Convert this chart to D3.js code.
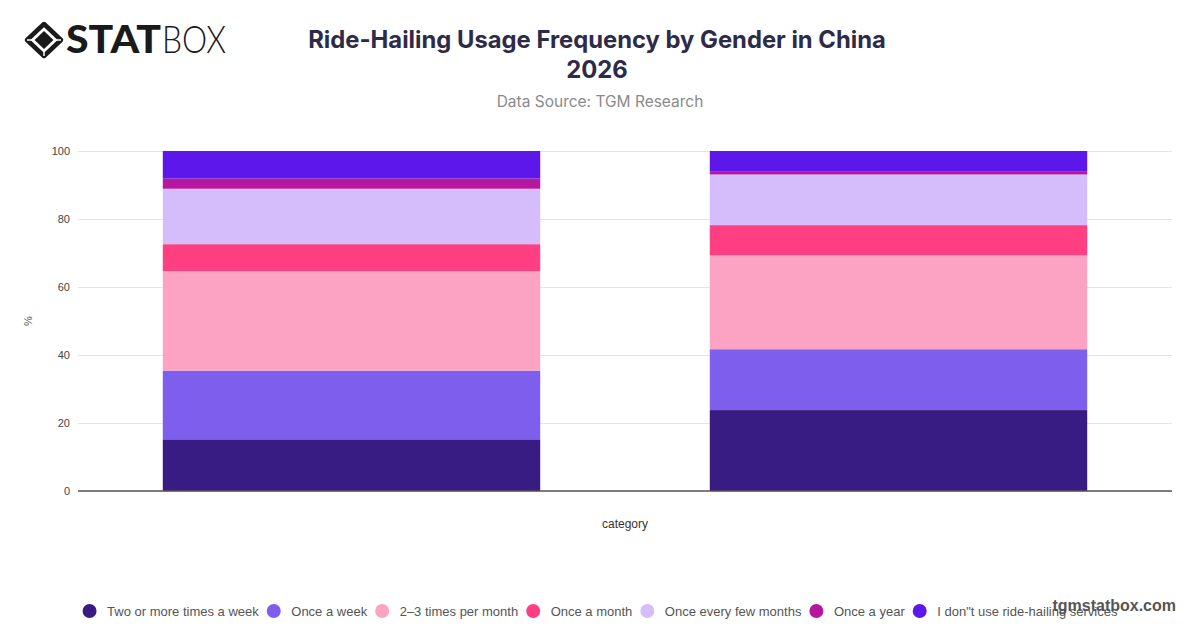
<!DOCTYPE html>
<html>
<head>
<meta charset="utf-8">
<script src="https://cdn.jsdelivr.net/npm/d3@7"></script>
<style>
  body { margin: 0; background: #fff; }
  svg { display: block; }
</style>
</head>
<body>
<svg id="chart" width="1200" height="628"></svg>
<script>
// data
var categories = ["Male", "Female"];
var seriesNames = ["Two or more times a week", "Once a week", "2\u20133 times per month", "Once a month",
                   "Once every few months", "Once a year", "I don\"t use ride-hailing services"];
var seriesColors = ["#381c84", "#7e5eec", "#fca2c3", "#ff3f82", "#d5bcfb", "#b5179e", "#5e17eb"];
var maleValues   = [15.2, 20.2, 29.3, 7.9, 16.3, 3.0, 8.1];
var femaleValues = [23.8, 17.9, 27.6, 8.9, 14.9, 0.8, 6.1];
var yTicks = [0, 20, 40, 60, 80, 100];

var svg = d3.select("#chart"),
    plotLeft = 78, plotRight = 1172, plotTop = 151, plotBottom = 491;

// rows for the stack
var rows = categories.map(function(c, i) {
  var vals = i == 0 ? maleValues : femaleValues;
  var r = { category: c };
  seriesNames.forEach(function(s, j) { r[s] = vals[j]; });
  return r;
});
var stacked = d3.stack().keys(seriesNames)(rows);

var xScale = d3.scaleBand().domain(categories).range([plotLeft, plotRight])
    .paddingInner(0.31).paddingOuter(0.155);
var yScale = d3.scaleLinear().domain([0, 100]).range([plotBottom, plotTop]);

// gridlines
svg.append("g")
  .attr("transform", "translate(" + plotLeft + ",0)")
  .call(d3.axisLeft(yScale).tickValues(yTicks).tickSize(-(plotRight - plotLeft)).tickFormat(""))
  .call(function(g) { g.select(".domain").remove(); })
  .selectAll("line").attr("stroke", "#e3e3e3");

// tick labels
svg.append("g")
  .selectAll("text")
  .data(yTicks)
  .enter()
  .append("text")
  .attr("x", 70)
  .attr("y", function(d) { return yScale(d); })
  .attr("dy", "0.35em")
  .attr("text-anchor", "end")
  .style("font-family", "Liberation Sans, Arial, sans-serif")
  .style("font-size", 11)
  .style("fill", "#444")
  .text(function(d) { return d; });

// bars
svg.append("g")
  .selectAll("g")
  .data(stacked)
  .enter()
  .append("g")
  .attr("fill", function(d, i) { return seriesColors[i]; })
  .selectAll("rect")
  .data(function(d) { return d; })
  .enter()
  .append("rect")
  .attr("x", function(d) { return xScale(d.data.category); })
  .attr("y", function(d) { return yScale(d[1]); })
  .attr("width", xScale.bandwidth())
  .attr("height", function(d) { return yScale(d[0]) - yScale(d[1]); });

// baseline
svg.append("line")
  .attr("x1", plotLeft).attr("x2", plotRight)
  .attr("y1", yScale(0)).attr("y2", yScale(0))
  .style("stroke", "#555")
  .style("stroke-width", 1.5);

// axis titles
svg.append("text")
  .attr("transform", "translate(32," + (plotTop + plotBottom) / 2 + ") rotate(-90)")
  .attr("text-anchor", "middle")
  .style("font-family", "Liberation Sans, Arial, sans-serif")
  .style("font-size", 11)
  .style("fill", "#555")
  .text("%");

svg.append("text")
  .attr("x", (plotLeft + plotRight) / 2)
  .attr("y", 528)
  .attr("text-anchor", "middle")
  .style("font-family", "Liberation Sans, Arial, sans-serif")
  .style("font-size", 12)
  .style("fill", "#333")
  .text("category");

// title
var title = svg.append("text")
  .attr("text-anchor", "middle")
  .style("font-family", "Inter, sans-serif")
  .style("font-weight", 700)
  .style("font-size", 23.8)
  .style("fill", "#2e2b48");
title.append("tspan").attr("x", 597).attr("y", 48).text("Ride-Hailing Usage Frequency by Gender in China");
title.append("tspan").attr("x", 597).attr("y", 78).text("2026");

svg.append("text")
  .attr("x", 600)
  .attr("y", 107)
  .attr("text-anchor", "middle")
  .style("font-family", "Inter, sans-serif")
  .style("font-size", 15.5)
  .style("fill", "#8a8a8a")
  .text("Data Source: TGM Research");

// logo
var logo = svg.append("g").attr("transform", "translate(44,40)");
logo.append("path")
  .attr("d", "M0,-16 L17,0 L0,16 L-17,0 Z")
  .style("fill", "none").style("stroke", "#1a1a1a").style("stroke-width", 4.5)
  .style("stroke-linejoin", "round");
logo.append("path")
  .attr("d", "M0,-9 L9.5,0 L0,9 L-9.5,0 Z")
  .style("fill", "#1a1a1a");
logo.selectAll("line.cut")
  .data([[-17, 0, -11, 0], [17, 0, 11, 0], [0, 16, 0, 11]])
  .enter()
  .append("line")
  .attr("x1", function(d) { return d[0]; }).attr("y1", function(d) { return d[1]; })
  .attr("x2", function(d) { return d[2]; }).attr("y2", function(d) { return d[3]; })
  .style("stroke", "#fff").style("stroke-width", 1.5);

svg.append("text")
  .attr("x", 66).attr("y", 53)
  .attr("textLength", 95).attr("lengthAdjust", "spacingAndGlyphs")
  .style("font-family", "Lato, sans-serif")
  .style("font-weight", 900)
  .style("font-size", 38)
  .style("fill", "#1a1a1a")
  .text("STAT");
svg.append("text")
  .attr("x", 162).attr("y", 53)
  .attr("textLength", 64).attr("lengthAdjust", "spacingAndGlyphs")
  .style("font-family", "Lato, sans-serif")
  .style("font-weight", 300)
  .style("font-size", 38)
  .style("fill", "#1a1a1a")
  .text("BOX");

// legend, centred
var legend = svg.append("g");
var items = legend.selectAll("g")
  .data(seriesNames)
  .enter()
  .append("g");
items.append("circle")
  .attr("r", 7)
  .attr("cy", 0)
  .style("fill", function(d, i) { return seriesColors[i]; });
items.append("text")
  .attr("x", 17.5)
  .attr("dy", "0.35em")
  .style("font-family", "Liberation Sans, Arial, sans-serif")
  .style("font-size", 13)
  .style("fill", "#555")
  .text(function(d) { return d; });
var pos = 0;
items.each(function() {
  var w = d3.select(this).select("text").node().getComputedTextLength();
  d3.select(this).attr("transform", "translate(" + pos + ",0)");
  pos += 17.5 + w + 15;
});
var total = pos - 15 + 7;
legend.attr("transform", "translate(" + (600 - total / 2 + 7) + ",611)");

// watermark
svg.append("text")
  .attr("x", 1176)
  .attr("y", 611)
  .attr("text-anchor", "end")
  .style("font-family", "Liberation Sans, Arial, sans-serif")
  .style("font-weight", 700)
  .style("font-size", 16)
  .style("fill", "#555")
  .text("tgmstatbox.com");
</script>
</body>
</html>
